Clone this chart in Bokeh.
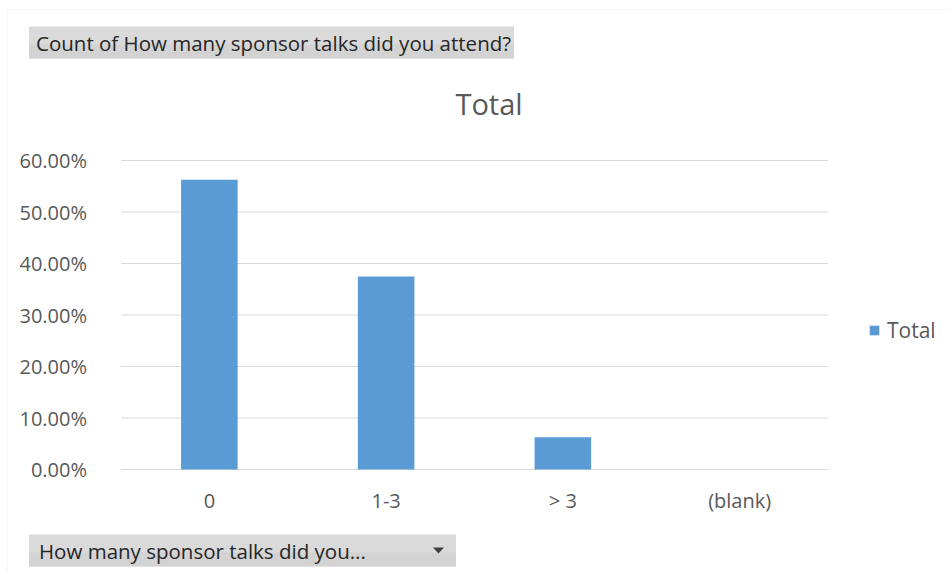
from bokeh.plotting import figure
from bokeh.models import (FactorRange, Range1d, Label, BoxAnnotation, PolyAnnotation,
                          NumeralTickFormatter, FixedTicker, Legend, LegendItem, ColumnDataSource)
from bokeh.embed import file_html
from bokeh.resources import INLINE

categories = ["0", "1-3", "> 3", "(blank)"]
totals = [0.5625, 0.375, 0.0625, 0.0]
y_ticks = [0.0, 0.1, 0.2, 0.3, 0.4, 0.5, 0.6]
series_name = "Total"
chart_title = "Total"
filter_label = "Count of How many sponsor talks did you attend?"
axis_field_label = "How many sponsor talks did you..."

FONT = "Open Sans"
GREY_TXT = "#595959"
DARK_TXT = "#262626"
BAR = "#5b9bd5"
GRID = "#d9d9d9"
BTN = "#d6d6d6"

# canvas and plot-area geometry (pixels)
W, H = 948, 571
PL, PR, PT, PB = 120, 827, 160, 469
YMAX = y_ticks[-1]
ppu = (PR - PL) / len(categories)          # pixels per category
ppy = (PB - PT) / YMAX                     # pixels per unit of y

pad_total = (W - (PR - PL)) / ppu
x_range = FactorRange(*categories, range_padding=pad_total / len(categories),
                      range_padding_units="percent")
y_range = Range1d(-(H - PB) / ppy, YMAX + PT / ppy)

p = figure(x_range=x_range, y_range=y_range, width=W, height=H,
           min_border=0, min_border_left=0, min_border_right=0,
           min_border_top=0, min_border_bottom=0,
           output_backend="svg", toolbar_location=None)
p.outline_line_color = None
p.background_fill_color = "white"
p.border_fill_color = "white"
p.grid.visible = False


def X(px):
    return (px - PL) / ppu


def Y(py):
    return (PB - py) / ppy


# horizontal gridlines at the y ticks, across the plot area only
grid_src = ColumnDataSource(dict(y=y_ticks, x0=[0] * len(y_ticks),
                                 x1=[len(categories)] * len(y_ticks)))
p.segment(x0="x0", y0="y", x1="x1", y1="y", source=grid_src, line_color=GRID, line_width=1)

bars = p.vbar(x=categories, top=totals, width=0.32, fill_color=BAR, line_color=None)

# axes fixed at the plot-area edges
p.yaxis.fixed_location = 0
p.yaxis.ticker = FixedTicker(ticks=y_ticks)
p.yaxis.formatter = NumeralTickFormatter(format="0.00%")
p.yaxis.axis_line_color = None
p.yaxis.major_tick_line_color = None
p.yaxis.minor_tick_line_color = None
p.yaxis.major_label_standoff = 28
p.yaxis.major_label_text_font = FONT
p.yaxis.major_label_text_font_size = "20px"
p.yaxis.major_label_text_color = GREY_TXT

p.xaxis.fixed_location = 0
p.xaxis.axis_line_color = None
p.xaxis.major_tick_line_color = None
p.xaxis.minor_tick_line_color = None
p.xaxis.major_label_standoff = 11
p.xaxis.major_label_text_font = FONT
p.xaxis.major_label_text_font_size = "20px"
p.xaxis.major_label_text_color = GREY_TXT

# outer chart border (left and top edges)
p.add_layout(BoxAnnotation(left=X(6), right=X(W + 50), top=Y(9), bottom=Y(H + 50),
                           fill_alpha=0, line_color=GRID, line_width=1))

# top filter button (light-to-darker grey like the Excel field button)
p.add_layout(BoxAnnotation(left=X(28), right=X(513), top=Y(26), bottom=Y(58),
                           fill_color="#dadada", fill_alpha=1, line_color=None))
p.add_layout(BoxAnnotation(left=X(28), right=X(513), top=Y(44), bottom=Y(58),
                           fill_color="#cfcfcf", fill_alpha=0.6, line_color=None))
p.add_layout(Label(x=X(35), y=Y(42), text=filter_label, text_font=FONT,
                   text_font_size="20.5px", text_color=DARK_TXT, text_baseline="middle"))

# chart title
p.add_layout(Label(x=X(488), y=Y(103), text=chart_title, text_font=FONT,
                   text_font_size="29px", text_color=GREY_TXT,
                   text_align="center", text_baseline="middle"))

# legend
legend = Legend(items=[LegendItem(label=series_name, renderers=[bars])],
                location=(868, 227), orientation="vertical",
                glyph_width=12, glyph_height=12, label_standoff=7,
                padding=0, margin=0, spacing=0,
                border_line_color=None, background_fill_alpha=0,
                label_text_font=FONT, label_text_font_size="21px",
                label_text_color=GREY_TXT)
p.add_layout(legend)

# bottom axis field button
p.add_layout(BoxAnnotation(left=X(28), right=X(455), top=Y(534), bottom=Y(566),
                           fill_color="#dadada", fill_alpha=1, line_color=None))
p.add_layout(BoxAnnotation(left=X(28), right=X(455), top=Y(552), bottom=Y(566),
                           fill_color="#cfcfcf", fill_alpha=0.6, line_color=None))
p.add_layout(Label(x=X(38), y=Y(550), text=axis_field_label, text_font=FONT,
                   text_font_size="20.5px", text_color=DARK_TXT, text_baseline="middle"))
p.add_layout(PolyAnnotation(xs=[X(432), X(443), X(437.5)], ys=[Y(547), Y(547), Y(553)],
                            fill_color="#404040", fill_alpha=1, line_color=None))

open("out.html", "w").write(file_html(p, INLINE))
